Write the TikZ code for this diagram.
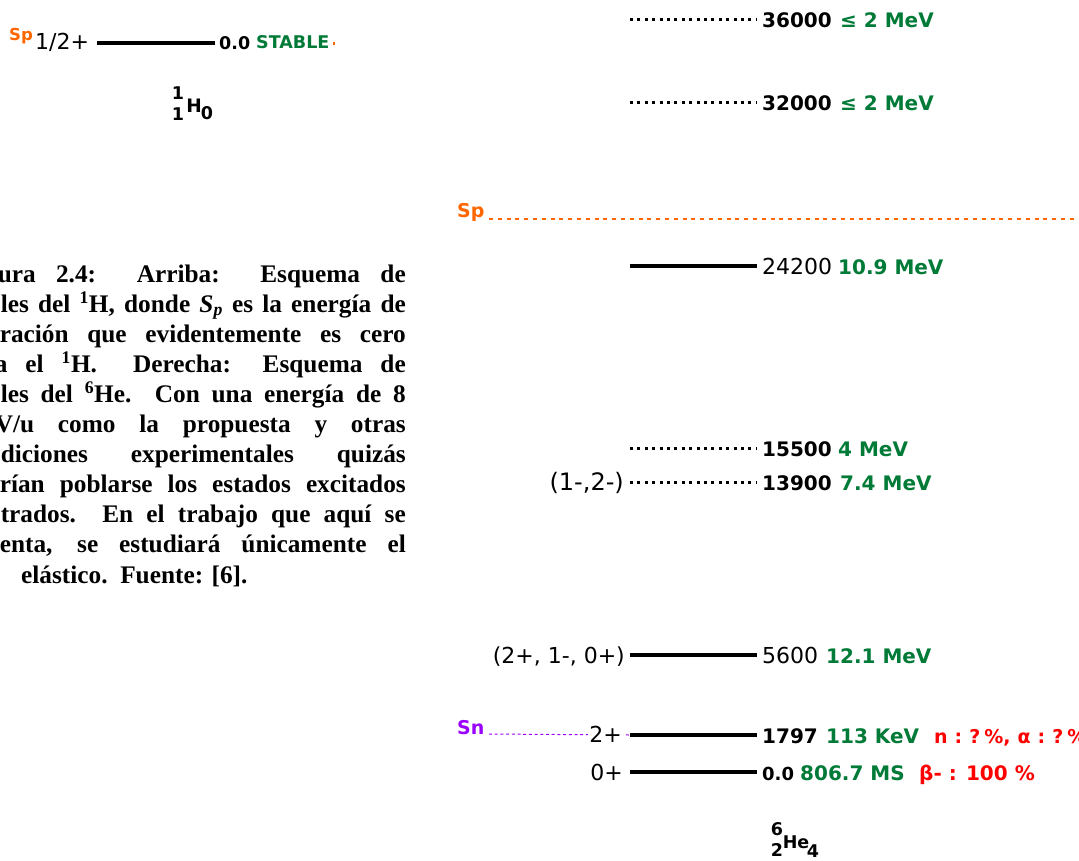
\documentclass[tikz,border=0pt]{standalone}
\usepackage{fontspec}
\setmainfont{Liberation Serif}
\newfontfamily\lvfont{DejaVu Sans}
\definecolor{spor}{HTML}{FF6600}
\definecolor{lvgreen}{HTML}{007A37}
\definecolor{lvred}{HTML}{FF0000}
\definecolor{snpur}{HTML}{9900FF}
\tikzset{
  level/.style={line width=3.5pt},
  unklevel/.style={line width=3pt, dash pattern=on 3pt off 4.4pt},
  spline/.style={spor, line width=2pt, dash pattern=on 4pt off 4.8pt},
  snline/.style={snpur, line width=1pt, dash pattern=on 3pt off 2.7pt},
  lreg/.style={inner sep=0pt, font=\lvfont\fontsize{22}{25}\selectfont},
  lbold/.style={inner sep=0pt, font=\lvfont\bfseries\fontsize{20}{24}\selectfont},
  lsmall/.style={inner sep=0pt, font=\lvfont\bfseries\fontsize{17.5}{20}\selectfont},
  capline/.style={inner sep=0pt, anchor=base east, font=\bfseries\fontsize{25.3}{30}\selectfont},
}
\newcommand{\gp}{\hspace{7pt}}
\begin{document}
\begin{tikzpicture}[x=1pt,y=-1pt]
\useasboundingbox (0,0) rectangle (1079,860);
\fill[white] (0,0) rectangle (1079,860);
\clip (0,0) rectangle (1079,860);

% ---------- 1H level scheme ----------
\node[lsmall, spor, anchor=base west, font=\lvfont\bfseries\fontsize{16.5}{18}\selectfont] (spH) at (9,40) {Sp};
\node[lreg, anchor=base west] (jH) at (35,49) {1/2+};
\coordinate (hA) at (97,43);
\coordinate (hB) at (215,43);
\draw[level] (hA) -- (hB);
\node[lsmall, anchor=base west] (eH) at (219,49) {0.0};
\node[lsmall, lvgreen, anchor=base west] (tH) at (256,48) {STABLE};
\fill[spor] (332.5,42) rectangle (335,44.5);
% isotope symbol
\node[lsmall] (hZa) at (178,93.5) {1};
\node[lsmall] (hZb) at (178,114) {1};
\node[lsmall, font=\lvfont\bfseries\fontsize{18.5}{20}\selectfont] (hSym) at (194,106) {H};
\node[lsmall] (hN) at (207,113) {0};

% ---------- caption ----------
\begin{scope}[every node/.style={capline}]
\node (c1) at (406,282.0) {\makebox[408pt][s]{ura 2.4:\ \ Arriba:\ \ Esquema de}};
\node (c2) at (406,312.1) {\makebox[405pt][s]{les del \textsuperscript{1}H, donde \textit{S\textsubscript{p}} es la energía de}};
\node (c3) at (406,342.2) {\makebox[406pt][s]{ración que evidentemente es cero}};
\node (c4) at (406,372.3) {\makebox[411pt][s]{a el \textsuperscript{1}H.\ \ Derecha: Esquema de}};
\node (c5) at (406,402.4) {\makebox[405pt][s]{les del \textsuperscript{6}He.\ \ Con una energía de 8}};
\node (c6) at (406,432.5) {\makebox[411pt][s]{V/u como la propuesta y otras}};
\node (c7) at (406,462.6) {\makebox[405pt][s]{diciones experimentales quizás}};
\node (c8) at (406,492.7) {\makebox[406pt][s]{rían poblarse los estados excitados}};
\node (c9) at (406,522.8) {\makebox[405pt][s]{trados.\ \ En el trabajo que aquí se}};
\node (c10) at (406,552.9) {\makebox[406pt][s]{enta, se estudiará únicamente el}};
\node[anchor=base west] (c11) at (21,583.0) {elástico.\ \ Fuente: [6].};
\end{scope}

% ---------- 6He level scheme ----------
% 36000
\coordinate (a1) at (630,19); \coordinate (b1) at (757,19);
\draw[unklevel] (a1) -- (b1);
\node[lbold, anchor=base west] (e1) at (762,27) {36000};
\node[lbold, lvgreen, anchor=base west] (w1) at (840,27) {≤ 2 MeV};
% 32000
\coordinate (a2) at (630,102); \coordinate (b2) at (757,102);
\draw[unklevel] (a2) -- (b2);
\node[lbold, anchor=base west] (e2) at (762,110) {32000};
\node[lbold, lvgreen, anchor=base west] (w2) at (840,110) {≤ 2 MeV};
% proton separation
\node[lbold, spor, anchor=base west, font=\lvfont\bfseries\fontsize{19}{22}\selectfont] (spHe) at (457,217) {Sp};
\coordinate (spEnd) at (1079,219);
\draw[spline] (489,219) -- (spEnd);
% 24200
\coordinate (a3) at (630,266); \coordinate (b3) at (757,266);
\draw[level] (a3) -- (b3);
\node[lreg, anchor=base west] (e3) at (762,274) {24200};
\node[lbold, lvgreen, anchor=base west] (w3) at (838,274) {10.9 MeV};
% 15500
\coordinate (a4) at (630,448); \coordinate (b4) at (757,448);
\draw[unklevel] (a4) -- (b4);
\node[lbold, anchor=base west] (e4) at (762,456) {15500};
\node[lbold, lvgreen, anchor=base west] (w4) at (838,456) {4 MeV};
% 13900
\coordinate (a5) at (630,482); \coordinate (b5) at (757,482);
\draw[unklevel] (a5) -- (b5);
\node[lreg, anchor=base east, font=\lvfont\fontsize{24}{26}\selectfont] (j5) at (624,490) {(1-,2-)};
\node[lbold, anchor=base west] (e5) at (762,490) {13900};
\node[lbold, lvgreen, anchor=base west] (w5) at (840,490) {7.4 MeV};
% 5600
\coordinate (a6) at (630,655); \coordinate (b6) at (757,655);
\draw[level] (a6) -- (b6);
\node[lreg, anchor=base east] (j6) at (625,663) {(2+, 1-, 0+)};
\node[lreg, anchor=base west] (e6) at (762,663) {5600};
\node[lbold, lvgreen, anchor=base west] (w6) at (826,663) {12.1 MeV};
% neutron separation and 1797
\node[lbold, snpur, anchor=base west, font=\lvfont\bfseries\fontsize{19}{22}\selectfont] (snHe) at (457,734) {Sn};
\coordinate (a7) at (630,735); \coordinate (b7) at (757,735);
\coordinate (snStart) at (489,734);
\draw[snline] (snStart) -- (a7);
\draw[level] (a7) -- (b7);
\node[lreg, anchor=base east, fill=white, inner xsep=1pt] (j7) at (623,742) {2+};
\node[lbold, anchor=base west] (e7) at (762,743) {1797};
\node[lbold, lvgreen, anchor=base west] (w7) at (826,743) {113 KeV};
\node[lbold, lvred, anchor=base west, font=\lvfont\bfseries\fontsize{19}{22}\selectfont] (d7) at (934,743) {n\gp:\gp?\hspace{4pt}\%,\gp α\gp:\gp?\hspace{4pt}\%};
% ground state
\coordinate (a8) at (630,772); \coordinate (b8) at (757,772);
\draw[level] (a8) -- (b8);
\node[lreg, anchor=base east] (j8) at (623,780) {0+};
\node[lbold, anchor=base west, font=\lvfont\bfseries\fontsize{18}{22}\selectfont] (e8) at (762,780) {0.0};
\node[lbold, lvgreen, anchor=base west] (w8) at (800,780) {806.7 MS};
\node[lbold, lvred, anchor=base west] (d8) at (919,780) {β- : 100 \%};
% isotope symbol
\node[lsmall] (heZa) at (777,829) {6};
\node[lsmall] (heZb) at (777,850) {2};
\node[lsmall] (heSym) at (796,842) {He};
\node[lsmall] (heN) at (813,851) {4};
\end{tikzpicture}
\end{document}
